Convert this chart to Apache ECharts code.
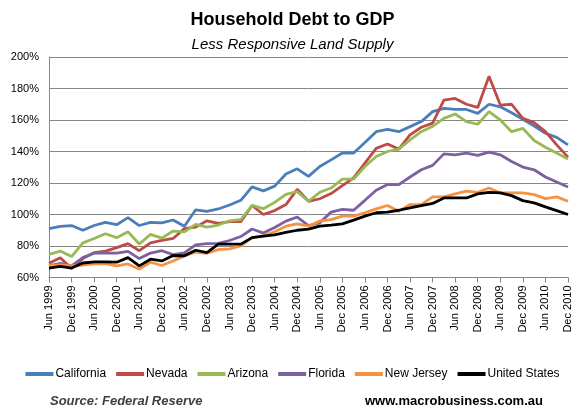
<!DOCTYPE html>
<html><head><meta charset="utf-8">
<script src="https://cdn.jsdelivr.net/npm/echarts@6/dist/echarts.min.js"></script>
<style>html,body{margin:0;padding:0;background:#fff}#c{width:585px;height:415px}</style>
</head><body><div id="c"></div>
<script>
const monthNames = ['Jun','Sep','Dec','Mar'];
// quarterly categories Jun 1999 .. Dec 2010
const categories = [];
(function(){
  let y = 1999;
  for (let i = 0; i < 47; i++) {
    const m = monthNames[i % 4];
    if (m === 'Mar') y++;
    categories.push(m + ' ' + y);
  }
})();
const seriesNames = ['California','Nevada','Arizona','Florida','New Jersey','United States'];
const california = [91,92.5,93,90,93,95,93.5,98,93,95,94.7,96.5,92.5,103,102,103.5,106,109,117.5,115,118,125.7,129,124.2,130.5,134.7,139,139,145.7,152.6,154,152.6,155.8,159,165.3,167.4,166.7,166.7,164.2,170,168.4,164.6,160.4,156.2,151.6,149,144.2];
const nevada = [69,72.6,65.7,72,75.8,76.8,79,81.5,77,82,83.6,84.8,91,92,96,94.3,95.5,95.5,105.7,100,102.5,106.3,116,108.4,110,113.3,118.3,123.2,132.6,142,144.8,141.5,150.5,155.4,158,172.6,173.7,170,168,187.8,169.5,170,161,158.3,152.6,144.2,136.4];
const arizona = [74.7,76.8,73.3,82,84.8,87.8,85.3,89,81.3,87.4,85,89.5,89,93.7,92,93.3,96,96.8,105.8,103.7,107.7,112.8,114.5,108.4,114.1,116.8,122.5,122.5,130.5,136.8,140,141.5,147.4,152.6,156,161,163.8,159,157.3,165.3,160,152.6,154.7,147,142.7,139,135.2];
const florida = [67.4,69,67.4,72.6,75.5,75.6,75.5,76.6,72,75.5,77,74.5,75.6,80.7,81.5,81.7,83.5,86,90.8,88.2,91.7,95.8,98.4,93,94.7,101.5,103.2,102.7,109,115.4,119,119,123.8,128.4,131.2,138.5,137.9,139,137.5,139.6,137.9,133.7,130.1,128.4,123.8,120.6,117.5];
const newJersey = [67.6,68,67.4,67.8,68.6,68.8,67.4,68.6,65.3,69.7,67.6,70.5,73.7,76.2,75.4,77.7,78.2,80,85.3,86.5,89,92.6,94.1,92.6,95.8,96.8,99,99,101.1,103.6,105.7,102.1,106.3,106.3,111.2,111.2,113.1,114.8,114.1,116.8,113.7,113.7,113.7,112.6,110.1,111.2,108.4];
const unitedStates = [66,67,66,69.2,69.9,69.9,69.7,72.6,67.4,71.6,70.5,73.9,73.8,77.3,75.8,81.2,81.2,81.2,85.3,86.3,87,88.6,90,90.7,92.6,93.3,94.1,96.4,99,101.1,101.5,102.7,104.2,105.7,107,110.5,110.5,110.5,113.1,114.1,113.7,112,108.8,107.4,104.8,102.5,100];
const yTicks = {min:60, max:200, interval:20};
const colors = ['#4A7EBB','#BE4B48','#98B954','#7D60A0','#F69240','#000000'];
const values = [california, nevada, arizona, florida, newJersey, unitedStates];

const FONT = '"Liberation Sans", Arial, sans-serif';
const chart = echarts.init(document.getElementById('c'), null, {renderer:'canvas'});
chart.setOption({
  animation:false,
  backgroundColor:'#ffffff',
  title:[
    {text:'Household Debt to GDP', left:'center', top:6, textStyle:{fontFamily:FONT, fontSize:18, fontWeight:'bold', color:'#000'}},
    {text:'Less Responsive Land Supply', left:'center', top:32, textStyle:{fontFamily:FONT, fontSize:15, fontStyle:'italic', fontWeight:'normal', color:'#000'}},
    {text:'Source: Federal Reserve', left:45, top:390, textStyle:{fontFamily:FONT, fontSize:13, fontStyle:'italic', fontWeight:'bold', color:'#404040'}},
    {text:'www.macrobusiness.com.au', left:360, top:390, textStyle:{fontFamily:FONT, fontSize:13, fontWeight:'bold', color:'#000'}}
  ],
  legend:{
    top:363, left:'center', icon:'rect', itemWidth:28, itemHeight:4, itemGap:10,
    data:seriesNames,
    textStyle:{fontFamily:FONT, fontSize:12, color:'#000', padding:[0,0,0,-3]}
  },
  grid:{left:49, right:17, top:57, bottom:137.5, containLabel:false},
  xAxis:{
    type:'category', data:categories, boundaryGap:false,
    axisLine:{lineStyle:{color:'#868686', width:1}},
    axisTick:{show:true, interval:1, length:5, lineStyle:{color:'#868686'}},
    axisLabel:{interval:1, rotate:90, fontFamily:FONT, fontSize:11, color:'#000', margin:8},
    splitLine:{show:false}
  },
  yAxis:{
    type:'value', min:yTicks.min, max:yTicks.max, interval:yTicks.interval,
    axisLine:{show:true, lineStyle:{color:'#868686', width:1}},
    axisTick:{show:false},
    axisLabel:{formatter:'{value}%', fontFamily:FONT, fontSize:11, color:'#000', margin:10},
    splitLine:{lineStyle:{color:'#868686', width:1}}
  },
  series: seriesNames.map((n,i)=>({
    name:n, type:'line', data:values[i], symbol:'none', smooth:false,
    lineStyle:{width:2.8, color:colors[i]}, itemStyle:{color:colors[i]}
  }))
});
</script></body></html>
